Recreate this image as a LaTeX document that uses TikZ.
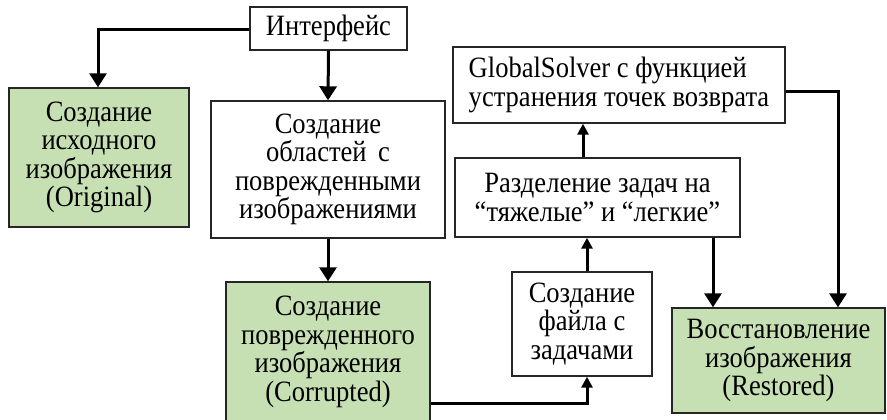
\documentclass[tikz,border=0pt]{standalone}
\usepackage{fontspec}
\setmainfont{Liberation Serif}[FakeStretch=0.9]
\usetikzlibrary{arrows.meta}
\definecolor{boxgreen}{RGB}{198,224,180}
\begin{document}
\begin{tikzpicture}[x=1pt,y=-1pt,
  box/.style={draw=black!85,line width=1.4pt,align=center,inner sep=0pt,
    font=\fontsize{29.5}{28.5}\selectfont},
  gbox/.style={box,fill=boxgreen},
  conn/.style={line width=3pt,-{Triangle[width=17pt,length=14pt]}},
  sconn/.style={line width=3pt,-{Triangle[width=11pt,length=11pt]}}]
\useasboundingbox (0,0) rectangle (887,420);
\node[box,minimum width=157pt,minimum height=43pt] (iface) at (328.5,28.5) {Интерфейс};
\node[gbox,minimum width=180pt,minimum height=139pt] (orig) at (99,157.5) {Создание\\исходного\\изображения\\(Original)};
\node[box,minimum width=234pt,minimum height=137pt] (areas) at (328,169.5) {Создание\\областей\, с\\поврежденными\\изображениями};
\node[gbox,minimum width=204pt,minimum height=140pt] (corr) at (328,352) {Создание\\поврежденного\\изображения\\(Corrupted)};
\node[box,minimum width=140pt,minimum height=104pt] (tasks) at (582,324) {Создание\\файла с\\задачами};
\node[box,minimum width=285pt,minimum height=79pt] (split) at (597.5,197.5) {Разделение задач на\\“тяжелые” и “легкие”};
\node[box,minimum width=332pt,minimum height=76pt,align=left] (gs) at (619,85) {GlobalSolver с функцией\\устранения точек возврата};
\node[gbox,minimum width=213pt,minimum height=105pt] (rest) at (778.5,360.5) {Восстановление\\изображения\\(Restored)};
\coordinate (c1) at (98,30);
\coordinate (c4) at (587,403);
\coordinate (c8) at (838,92);
\draw[conn] (iface.west |- c1) -- (c1) -- (c1 |- orig.north);
\draw[conn] (iface.south) -- (areas.north);
\draw[conn] (areas.south) -- (corr.north);
\draw[sconn] (corr.east |- c4) -- (c4) -- (c4 |- tasks.south);
\draw[sconn] (587,0 |- tasks.north) -- (587,0 |- split.south);
\draw[sconn] (583,0 |- split.north) -- (583,0 |- gs.south);
\draw[conn] (713,0 |- split.south) -- (713,0 |- rest.north);
\draw[conn] (gs.east |- c8) -- (c8) -- (c8 |- rest.north);
\end{tikzpicture}
\end{document}
